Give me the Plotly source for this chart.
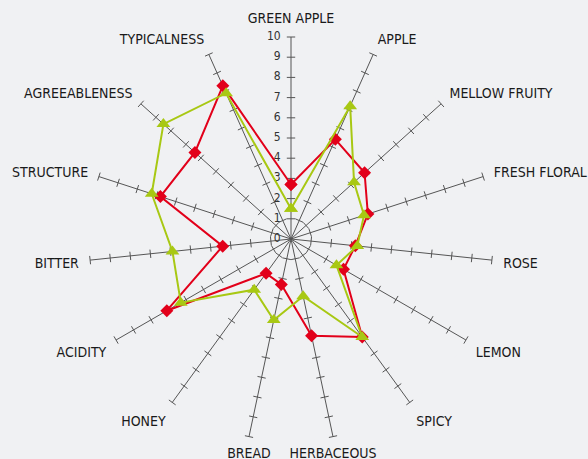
import plotly.graph_objects as go

categories = ["GREEN APPLE", "APPLE", "MELLOW FRUITY", "FRESH FLORAL", "ROSE", "LEMON",
              "SPICY", "HERBACEOUS", "BREAD", "HONEY", "ACIDITY", "BITTER",
              "STRUCTURE", "AGREEABLENESS", "TYPICALNESS"]
red_values = [2.7, 5.4, 4.9, 4.0, 3.2, 3.0, 6.0, 4.9, 2.3, 2.1, 7.1, 3.4, 6.8, 6.4, 8.3]
green_values = [1.5, 7.2, 4.2, 3.8, 3.3, 2.6, 6.0, 2.9, 4.1, 3.1, 6.3, 5.9, 7.25, 8.5, 7.9]
tick_values = list(range(0, 11))
tick_labels = [str(v) for v in tick_values]
bottom_labels = ["HERBACEOUS", "BREAD"]

FONT = "DejaVu Sans Condensed, Liberation Sans Narrow, Roboto, sans-serif"
BG = "#f0f1f3"
AXIS = "#555555"
LABEL = "#1a1a1a"

n = len(categories)
fig = go.Figure()

# tick marks on every spoke
tick_r, tick_t, tick_a = [], [], []
for i, c in enumerate(categories):
    for v in tick_values[1:]:
        tick_r.append(v)
        tick_t.append(c)
        tick_a.append(i * 360.0 / n)
fig.add_trace(go.Scatterpolar(
    r=tick_r, theta=tick_t, mode="markers",
    marker=dict(symbol="line-ew", size=6, angle=tick_a, angleref="up",
                line=dict(color=AXIS, width=1)),
    hoverinfo="skip", showlegend=False))

# radial scale labels on the top spoke
fig.add_trace(go.Scatterpolar(
    r=tick_values, theta=[categories[0]] * len(tick_values), mode="text",
    text=[t + "   " for t in tick_labels], textposition="middle left",
    textfont=dict(size=12, family=FONT, color="#333333"),
    hoverinfo="skip", showlegend=False))

# centred labels for the two bottom spokes
fig.add_trace(go.Scatterpolar(
    r=[tick_values[-1]] * len(bottom_labels), theta=bottom_labels,
    mode="markers+text", marker=dict(size=16, opacity=0),
    text=bottom_labels, textposition="bottom center", cliponaxis=False,
    textfont=dict(size=14, family=FONT, color=LABEL),
    hoverinfo="skip", showlegend=False))

fig.add_trace(go.Scatterpolar(
    r=red_values + red_values[:1], theta=categories + categories[:1],
    mode="lines+markers", line=dict(color="#e2001a", width=2),
    marker=dict(symbol="diamond", size=10, color="#e2001a"),
    showlegend=False))
fig.add_trace(go.Scatterpolar(
    r=green_values + green_values[:1], theta=categories + categories[:1],
    mode="lines+markers", line=dict(color="#a8c813", width=2),
    marker=dict(symbol="triangle-up", size=12, color="#a8c813"),
    showlegend=False))

ticktext = ["" if c in bottom_labels else c for c in categories]

fig.update_layout(
    width=588, height=459,
    margin=dict(l=89, r=95, t=37, b=18),
    paper_bgcolor=BG, plot_bgcolor=BG,
    font=dict(family=FONT, color=LABEL),
    polar=dict(
        bgcolor=BG,
        angularaxis=dict(direction="clockwise", rotation=90, showline=False,
                         showgrid=True, gridcolor=AXIS, gridwidth=1,
                         categoryorder="array", categoryarray=categories,
                         tickvals=categories, ticktext=ticktext,
                         ticks="outside", ticklen=8, tickcolor="rgba(0,0,0,0)",
                         tickfont=dict(size=14, family=FONT, color=LABEL)),
        radialaxis=dict(range=[0, 10], angle=90, showline=False,
                        showgrid=False, ticks="", showticklabels=False),
    ),
)

fig.write_html("out.html", config={"displayModeBar": False},
               post_script="document.body.style.margin='0';")
